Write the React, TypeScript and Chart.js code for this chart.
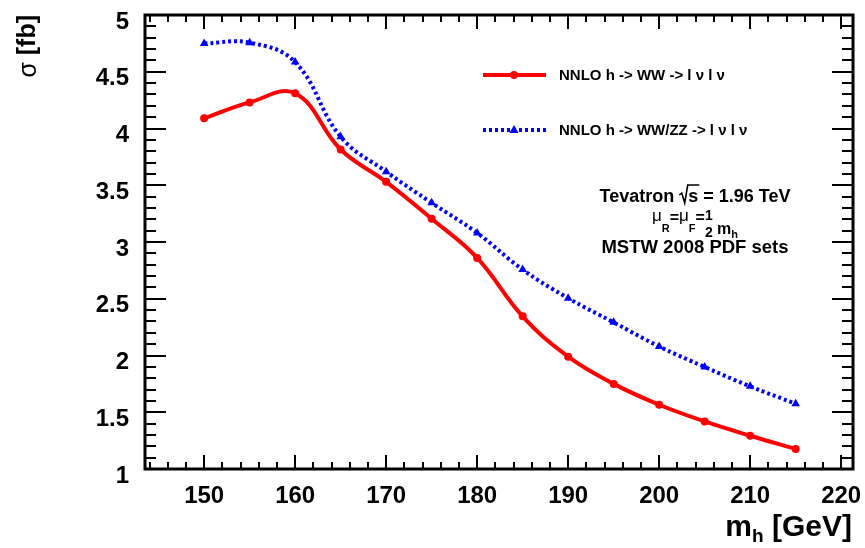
import React, { useEffect, useRef } from "react";
import { Chart, registerables } from "chart.js";

Chart.register(...registerables);

// ---- data ----
const massPoints = [150, 155, 160, 165, 170, 175, 180, 185, 190, 195, 200, 205, 210, 215];
const sigmaWW = [4.09, 4.23, 4.31, 3.815, 3.53, 3.205, 2.86, 2.345, 1.99, 1.75, 1.566, 1.419, 1.293, 1.176];
const sigmaWWZZ = [4.75, 4.756, 4.585, 3.927, 3.62, 3.345, 3.08, 2.757, 2.505, 2.292, 2.08, 1.899, 1.728, 1.575];
const xTickLabels = [150, 160, 170, 180, 190, 200, 210, 220];
const yTickLabels = [1, 1.5, 2, 2.5, 3, 3.5, 4, 4.5, 5];
const legendLabels = ["NNLO h -> WW -> l ν l ν", "NNLO h -> WW/ZZ -> l ν l ν"];
const annotationLines = ["Tevatron", "= 1.96 TeV", "MSTW 2008 PDF sets"];

const FONT = "'Liberation Sans', Arial, Helvetica, sans-serif";
const RED = "#ff0000";
const BLUE = "#0000ff";

const decorPlugin = {
  id: "rootDecor",
  afterDraw(chart: any) {
    const ctx: CanvasRenderingContext2D = chart.ctx;
    const { left, right, top, bottom } = chart.chartArea;
    const xs = chart.scales.x;
    const ys = chart.scales.y;
    ctx.save();
    ctx.strokeStyle = "#000";
    ctx.fillStyle = "#000";

    // ticks (inward, all four sides)
    ctx.lineWidth = 2;
    ctx.beginPath();
    for (let v = 144; v <= 221; v += 2) {
      const px = Math.round(xs.getPixelForValue(v));
      const len = v % 10 === 0 ? 14 : 7;
      ctx.moveTo(px, bottom);
      ctx.lineTo(px, bottom - len);
      ctx.moveTo(px, top);
      ctx.lineTo(px, top + len);
    }
    for (let i = 10; i <= 50; i++) {
      const v = i / 10;
      const py = Math.round(ys.getPixelForValue(v));
      const len = i % 5 === 0 ? 21 : 11;
      ctx.moveTo(left, py);
      ctx.lineTo(left + len, py);
      ctx.moveTo(right, py);
      ctx.lineTo(right - len, py);
    }
    ctx.stroke();

    // frame
    ctx.lineWidth = 3;
    ctx.strokeRect(left, top, right - left, bottom - top);

    // y axis title: sigma [fb]
    ctx.save();
    ctx.translate(28, top);
    ctx.rotate(-Math.PI / 2);
    ctx.textBaseline = "middle";
    ctx.textAlign = "right";
    ctx.font = `bold 25px ${FONT}`;
    const fbText = "[fb]";
    ctx.fillText(fbText, 0, 0);
    const fbW = ctx.measureText(fbText + " ").width;
    ctx.font = `25px ${FONT}`;
    ctx.fillText("σ", -fbW, 1);
    ctx.restore();

    // x axis title: m_h [GeV]
    ctx.textBaseline = "alphabetic";
    ctx.textAlign = "right";
    ctx.font = `bold 30px ${FONT}`;
    const gev = " [GeV]";
    ctx.fillText(gev, 852, 536);
    let xpos = 852 - ctx.measureText(gev).width;
    ctx.font = `bold 19px ${FONT}`;
    ctx.fillText("h", xpos, 542);
    xpos -= ctx.measureText("h").width;
    ctx.font = `bold 30px ${FONT}`;
    ctx.fillText("m", xpos, 536);

    // legend
    const legendY = [75, 130];
    const colors = [RED, BLUE];
    for (let i = 0; i < 2; i++) {
      const y = legendY[i];
      ctx.strokeStyle = colors[i];
      ctx.fillStyle = colors[i];
      ctx.lineWidth = 4;
      ctx.setLineDash(i === 1 ? [3, 3] : []);
      ctx.beginPath();
      ctx.moveTo(483, y);
      ctx.lineTo(546, y);
      ctx.stroke();
      ctx.setLineDash([]);
      ctx.beginPath();
      if (i === 0) {
        ctx.arc(514, y, 4, 0, Math.PI * 2);
      } else {
        ctx.moveTo(514, y - 5);
        ctx.lineTo(518.5, y + 3);
        ctx.lineTo(509.5, y + 3);
        ctx.closePath();
      }
      ctx.fill();
      ctx.fillStyle = "#000";
      ctx.font = `bold 15px ${FONT}`;
      ctx.textAlign = "left";
      ctx.textBaseline = "middle";
      ctx.fillText(legendLabels[i], 559, y + 1);
    }

    // annotation
    ctx.fillStyle = "#000";
    ctx.strokeStyle = "#000";
    ctx.textBaseline = "alphabetic";
    const cx = 695;
    // line 1: Tevatron sqrt(s) = 1.96 TeV
    ctx.font = `bold 18px ${FONT}`;
    const w1 = ctx.measureText(annotationLines[0] + " ").width;
    const wS = ctx.measureText("s").width;
    const w2 = ctx.measureText(" " + annotationLines[1]).width;
    const sqrtW = 9;
    const total1 = w1 + sqrtW + wS + w2;
    let x1 = cx - total1 / 2;
    ctx.textAlign = "left";
    ctx.fillText(annotationLines[0], x1, 202);
    x1 += w1;
    ctx.lineWidth = 1.6;
    ctx.beginPath();
    ctx.moveTo(x1, 195);
    ctx.lineTo(x1 + 2.5, 193);
    ctx.lineTo(x1 + 5.5, 203);
    ctx.lineTo(x1 + 8.5, 185);
    ctx.lineTo(x1 + sqrtW + wS + 1, 185);
    ctx.stroke();
    x1 += sqrtW;
    ctx.fillText("s", x1, 202);
    x1 += wS;
    ctx.fillText(" " + annotationLines[1], x1, 202);

    // line 2: mu_R = mu_F = 1/2 m_h
    const big = `17px ${FONT}`;
    const bigB = `bold 16px ${FONT}`;
    const sub = `bold 11px ${FONT}`;
    const frac = `bold 14px ${FONT}`;
    const parts: { t: string; f: string; dy: number; stack?: boolean }[] = [
      { t: "μ", f: big, dy: 221 },
      { t: "R", f: sub, dy: 232 },
      { t: "=", f: bigB, dy: 223 },
      { t: "μ", f: big, dy: 221 },
      { t: "F", f: sub, dy: 232 },
      { t: "=", f: bigB, dy: 223 },
      { t: "1", f: frac, dy: 220, stack: true },
      { t: " m", f: bigB, dy: 234 },
      { t: "h", f: sub, dy: 238 },
    ];
    let tot = 0;
    const widths = parts.map((p) => {
      ctx.font = p.f;
      return ctx.measureText(p.t).width;
    });
    widths.forEach((w) => (tot += w));
    let x2 = cx - tot / 2;
    parts.forEach((p, i) => {
      ctx.font = p.f;
      ctx.fillText(p.t, x2, p.dy);
      if (p.stack) {
        ctx.fillText("2", x2, 237);
      }
      x2 += widths[i];
    });

    // line 3
    ctx.font = `bold 18.5px ${FONT}`;
    ctx.textAlign = "center";
    ctx.fillText(annotationLines[2], cx, 253);

    ctx.restore();
  },
};

export default function App() {
  const canvasRef = useRef<HTMLCanvasElement | null>(null);

  useEffect(() => {
    if (!canvasRef.current) return;
    const chart = new Chart(canvasRef.current, {
      type: "line",
      data: {
        datasets: [
          {
            label: legendLabels[0],
            data: massPoints.map((m, i) => ({ x: m, y: sigmaWW[i] })),
            borderColor: RED,
            backgroundColor: RED,
            borderWidth: 4,
            pointRadius: 4,
            pointBorderWidth: 0,
            pointBackgroundColor: RED,
            tension: 0.4,
            fill: false,
          },
          {
            label: legendLabels[1],
            data: massPoints.map((m, i) => ({ x: m, y: sigmaWWZZ[i] })),
            borderColor: BLUE,
            backgroundColor: BLUE,
            borderWidth: 4,
            borderDash: [3, 3],
            pointStyle: "triangle",
            pointRadius: 5,
            pointBorderWidth: 0,
            pointBackgroundColor: BLUE,
            tension: 0.4,
            fill: false,
          },
        ],
      },
      options: {
        animation: false,
        responsive: false,
        maintainAspectRatio: false,
        devicePixelRatio: 1,
        layout: { padding: { left: 0, right: 12, top: 15, bottom: 0 } },
        plugins: {
          legend: { display: false },
          tooltip: { enabled: false },
          title: { display: false },
        },
        scales: {
          x: {
            type: "linear",
            min: 143.5,
            max: 221.3,
            grid: { display: false, drawTicks: false, tickLength: 0 },
            border: { display: false },
            afterBuildTicks: (s: any) => {
              s.ticks = xTickLabels.map((v) => ({ value: v }));
            },
            afterFit: (s: any) => {
              s.height = 79;
              s.paddingLeft = 0;
              s.paddingRight = 0;
              s.paddingTop = 0;
              s.paddingBottom = 0;
            },
            ticks: {
              color: "#000",
              padding: 13,
              maxRotation: 0,
              autoSkip: false,
              font: { family: FONT, size: 24, weight: "bold" },
              callback: (v: any) => String(v),
            },
          },
          y: {
            type: "linear",
            min: 1,
            max: 5,
            grid: { display: false, drawTicks: false, tickLength: 0 },
            border: { display: false },
            afterBuildTicks: (s: any) => {
              s.ticks = yTickLabels.map((v) => ({ value: v }));
            },
            afterFit: (s: any) => {
              s.width = 145;
              s.paddingLeft = 0;
              s.paddingRight = 0;
              s.paddingTop = 0;
              s.paddingBottom = 0;
            },
            ticks: {
              color: "#000",
              padding: 16,
              labelOffset: 7,
              autoSkip: false,
              font: { family: FONT, size: 24, weight: "bold" },
              callback: (v: any) => String(v),
            },
          },
        },
      },
      plugins: [decorPlugin],
    } as any);
    return () => chart.destroy();
  }, []);

  return (
    <div style={{ position: "fixed", left: 0, top: 0, width: 865, height: 548, background: "#fff" }}>
      <canvas ref={canvasRef} width={865} height={548} style={{ display: "block", width: 865, height: 548 }} />
    </div>
  );
}
